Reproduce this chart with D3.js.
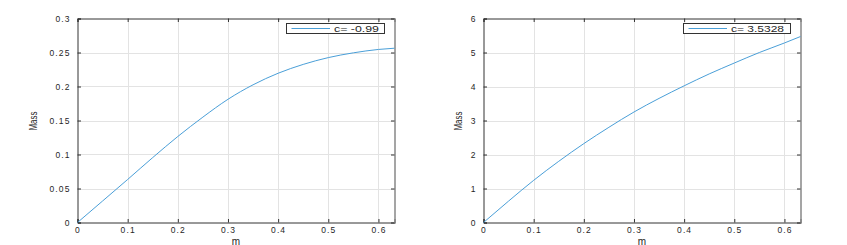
<!DOCTYPE html>
<html>
<head>
<meta charset="utf-8">
<script src="https://cdn.jsdelivr.net/npm/d3@7"></script>
<style>
  body { margin: 0; background: #fff; }
  text { font-family: "Liberation Sans", Arial, sans-serif; fill: #262626; }
</style>
</head>
<body>
<div id="container"></div>
<script>
/* DATA */
const mValues = [0, 0.05, 0.1, 0.15, 0.2, 0.25, 0.3, 0.35, 0.4, 0.45, 0.5, 0.55, 0.6, 0.632]
const massLeft = [0, 0.0316, 0.0633, 0.0955, 0.1265, 0.155, 0.1812, 0.2025, 0.2195, 0.2325, 0.2425, 0.2495, 0.2545, 0.2563]
const massRight = [0, 0.63, 1.24, 1.8, 2.32, 2.8, 3.25, 3.65, 4.02, 4.37, 4.69, 5.0, 5.28, 5.47]
const xTicks = [0, 0.1, 0.2, 0.3, 0.4, 0.5, 0.6]
const yTicksLeft = [0, 0.05, 0.1, 0.15, 0.2, 0.25, 0.3]
const yTicksRight = [0, 1, 2, 3, 4, 5, 6]
const legendLeft = "c= -0.99"
const legendRight = "c= 3.5328"

const width = 847, height = 245

const svg = d3.select("#container")
  .append("svg")
  .attr("width", width)
  .attr("height", height)

function drawPanel(opts) {
  const x = d3.scaleLinear().domain([0, 0.632]).range([opts.x0, opts.x1])
  const y = d3.scaleLinear().domain(opts.yDomain).range([222.5, 18.5])

  const g = svg.append("g")

  // grid
  g.selectAll(".gx").data(xTicks.slice(1))
    .join("line")
    .attr("x1", d => Math.round(x(d)) + 0.5).attr("x2", d => Math.round(x(d)) + 0.5)
    .attr("y1", y.range()[0]).attr("y2", y.range()[1])
    .attr("stroke", "#e3e3e3")
  g.selectAll(".gy").data(opts.yTicks.slice(1, -1))
    .join("line")
    .attr("y1", d => Math.round(y(d)) + 0.5).attr("y2", d => Math.round(y(d)) + 0.5)
    .attr("x1", opts.x0).attr("x2", opts.x1)
    .attr("stroke", "#e3e3e3")

  // axes, MATLAB style (ticks inside, box on)
  const bottom = g.append("g").attr("transform", `translate(0,${y.range()[0]})`)
    .call(d3.axisBottom(x).tickValues(xTicks).tickSize(-3.5).tickPadding(4.5).tickFormat(d3.format("")))
  const top = g.append("g").attr("transform", `translate(0,${y.range()[1]})`)
    .call(d3.axisTop(x).tickValues(xTicks).tickSize(-3.5).tickFormat(""))
  const left = g.append("g").attr("transform", `translate(${opts.x0},0)`)
    .call(d3.axisLeft(y).tickValues(opts.yTicks).tickSize(-3.5).tickPadding(7).tickFormat(d3.format("")))
  const right = g.append("g").attr("transform", `translate(${opts.x1},0)`)
    .call(d3.axisRight(y).tickValues(opts.yTicks).tickSize(-3.5).tickFormat(""))

  ;[bottom, top, left, right].forEach(a => {
    a.select(".domain").attr("stroke", "#333").attr("stroke-width", 1)
    a.selectAll(".tick line").attr("stroke", "#333")
  })
  ;[bottom, left].forEach(a => {
    a.selectAll(".tick text")
      .attr("font-size", 8.5)
      .style("letter-spacing", "1.1px")
      .attr("fill", "#262626")
  })
  right.select(".domain").attr("stroke", "#888").attr("stroke-width", 1.5)

  // curve
  g.append("path")
    .datum(mValues.map((m, i) => [m, opts.values[i]]))
    .attr("fill", "none")
    .attr("stroke", "#4a9fd8")
    .attr("stroke-width", 1)
    .attr("d", d3.line().x(d => x(d[0])).y(d => y(d[1])).curve(d3.curveMonotoneX))

  // labels
  g.append("text")
    .text("m")
    .attr("x", (opts.x0 + opts.x1) / 2)
    .attr("y", 244.5)
    .attr("text-anchor", "middle")
    .attr("font-size", 10)

  g.append("text")
    .text("Mass")
    .attr("transform", `translate(${opts.labelX},121) rotate(-90)`)
    .attr("text-anchor", "middle")
    .attr("font-size", 10)
    .attr("textLength", 19)
    .attr("lengthAdjust", "spacingAndGlyphs")

  // legend
  const lg = g.append("g")
  lg.append("rect")
    .attr("x", opts.legX + 0.5).attr("y", 23.5)
    .attr("width", opts.legW).attr("height", 10)
    .attr("fill", "#fff").attr("stroke", "#333")
  lg.append("line")
    .attr("x1", opts.legX + 5.5).attr("x2", opts.legX + 44)
    .attr("y1", 28.5).attr("y2", 28.5)
    .attr("stroke", "#4a9fd8")
  lg.append("text")
    .text(opts.legend)
    .attr("x", opts.legX + 48)
    .attr("y", 31.5)
    .attr("font-size", 8.5)
    .attr("textLength", opts.legTL)
    .attr("lengthAdjust", "spacingAndGlyphs")
}

drawPanel({ x0: 77.5, x1: 394.5, yDomain: [0, 0.3], yTicks: yTicksLeft, values: massLeft,
  labelX: 37, legX: 286, legW: 98, legend: legendLeft, legTL: 45 })
drawPanel({ x0: 483.5, x1: 800.5, yDomain: [0, 6], yTicks: yTicksRight, values: massRight,
  labelX: 462, legX: 683, legW: 107, legend: legendRight, legTL: 53 })
</script>
</body>
</html>
